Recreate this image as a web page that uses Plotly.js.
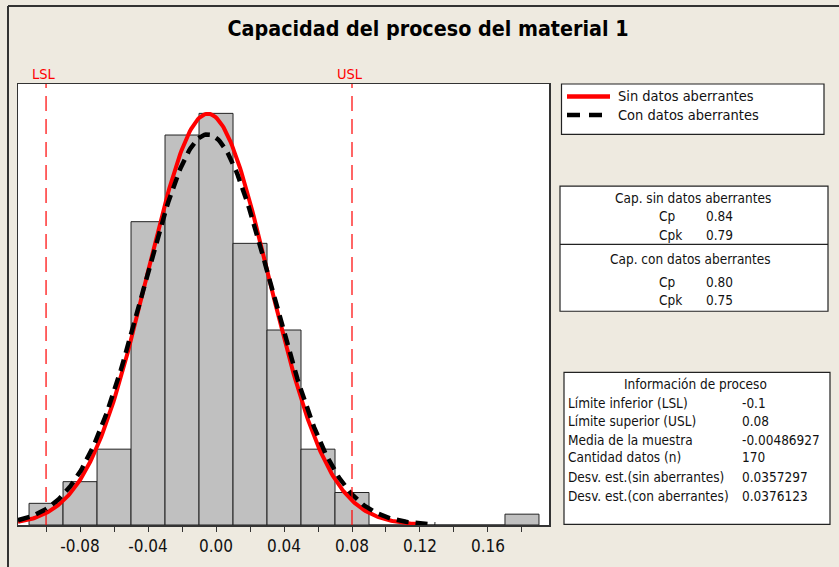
<!DOCTYPE html>
<html>
<head>
<meta charset="utf-8">
<script src="https://cdn.plot.ly/plotly-3.0.1.min.js"></script>
<style>
html,body{margin:0;padding:0;background:#EEEAE0;}
#chart{width:839px;height:567px;}
</style>
</head>
<body>
<div id="chart"></div>
<script>
// ---- data ----
const binCenters = [-0.10,-0.08,-0.06,-0.04,-0.02,0.00,0.02,0.04,0.06,0.08,0.10,0.12,0.14,0.16,0.18];
const binCounts  = [2,4,7,28,36,38,26,18,7,3,0,0,0,0,1];
const binWidth = 0.02;
const tickVals   = [-0.10,-0.08,-0.06,-0.04,-0.02,0.00,0.02,0.04,0.06,0.08,0.10,0.12,0.14,0.16,0.18];
const tickLabels = ["","-0.08","","-0.04","","0.00","","0.04","","0.08","","0.12","","0.16",""];
const specLimits = {LSL:-0.1, USL:0.08};
const sampleMean = -0.00486927;
const sampleN = 170;
const sdWithout = 0.0357297;
const sdWith = 0.0376123;
const curveRangeWithout = [-0.1165, 0.124];
const curveRangeWith = [-0.1165, 0.129];
const seriesNames = ["Sin datos aberrantes", "Con datos aberrantes"];
const capRowsWithout = [["Cp","0.84"],["Cpk","0.79"]];
const capRowsWith = [["Cp","0.80"],["Cpk","0.75"]];
const infoRows = [
  ["Límite inferior (LSL)","-0.1"],
  ["Límite superior (USL)","0.08"],
  ["Media de la muestra","-0.00486927"],
  ["Cantidad datos (n)","170"],
  ["Desv. est.(sin aberrantes)","0.0357297"],
  ["Desv. est.(con aberrantes)","0.0376123"]
];

// fitted normal curves (from the stated mean / sd, scaled to counts per bin)
function normalCurve(mu, sd, range){
  const xs=[], ys=[];
  const steps=300;
  for(let i=0;i<=steps;i++){
    const x = range[0] + (range[1]-range[0])*i/steps;
    const z=(x-mu)/sd;
    xs.push(x);
    ys.push(sampleN*binWidth*Math.exp(-0.5*z*z)/(sd*Math.sqrt(2*Math.PI)));
  }
  return {xs, ys};
}
const cWithout = normalCurve(sampleMean, sdWithout, curveRangeWithout);
const cWith = normalCurve(sampleMean, sdWith, curveRangeWith);

// ---- layout geometry (pixels -> paper) ----
const W=839, H=567, L=18, R=549, T=83.5, B=525;
const px = p => (p-L)/(R-L);
const py = p => (B-p)/(B-T);
const FONT = "DejaVu Sans Condensed, Liberation Sans, Arial, sans-serif";
const RED = '#FF0000';
const BLACKDASH = '12px,7px';

const traces = [
  {type:'bar', x:binCenters, y:binCounts, width:binWidth, showlegend:false,
   marker:{color:'#C0C0C0', line:{color:'#222', width:1}}, hoverinfo:'x+y'},
  {type:'scatter', mode:'lines', x:cWithout.xs, y:cWithout.ys, name:seriesNames[0], showlegend:false,
   line:{color:RED, width:4}},
  {type:'scatter', mode:'lines', x:cWith.xs, y:cWith.ys, name:seriesNames[1], showlegend:false,
   line:{color:'#000000', width:4.5, dash:BLACKDASH}}
];

const shapes = [
  // spec limit lines
  {type:'line', xref:'x', yref:'paper', x0:specLimits.LSL, x1:specLimits.LSL, y0:0, y1:1,
   line:{color:RED, width:1.2, dash:'15px,8px'}},
  {type:'line', xref:'x', yref:'paper', x0:specLimits.USL, x1:specLimits.USL, y0:0, y1:1,
   line:{color:RED, width:1.2, dash:'15px,8px'}},
  // outer frame
  {type:'line', xref:'paper', yref:'paper', x0:px(8), x1:px(845), y0:py(5.5), y1:py(5.5), line:{color:'#333', width:2}},
  {type:'line', xref:'paper', yref:'paper', x0:px(8), x1:px(8), y0:py(5.5), y1:py(575), line:{color:'#333', width:2}},
  // legend box + samples
  {type:'rect', xref:'paper', yref:'paper', x0:px(561.5), x1:px(824), y0:py(134), y1:py(83.5),
   line:{color:'#222', width:1.2}, fillcolor:'#FFFFFF', layer:'below'},
  {type:'line', xref:'paper', yref:'paper', x0:px(567), x1:px(610), y0:py(96), y1:py(96),
   line:{color:RED, width:4.5}},
  {type:'line', xref:'paper', yref:'paper', x0:px(567), x1:px(610), y0:py(114.5), y1:py(114.5),
   line:{color:'#000', width:4.5, dash:'13px,9px'}},
  // capability box
  {type:'rect', xref:'paper', yref:'paper', x0:px(560), x1:px(828), y0:py(311), y1:py(185.7),
   line:{color:'#222', width:1.2}, fillcolor:'#FFFFFF', layer:'below'},
  {type:'line', xref:'paper', yref:'paper', x0:px(560), x1:px(828), y0:py(244), y1:py(244),
   line:{color:'#222', width:1.2}},
  // info box
  {type:'rect', xref:'paper', yref:'paper', x0:px(564), x1:px(830), y0:py(524.3), y1:py(372.3),
   line:{color:'#222', width:1.2}, fillcolor:'#FFFFFF', layer:'below'}
];

const ann = [];
function txt(t, x, y, anchor, size, color){
  ann.push({text:t, xref:'paper', yref:'paper', x:px(x), y:py(y), xanchor:anchor||'left', yanchor:'middle',
    showarrow:false, font:{family:FONT, size:size||13.5, color:color||'#111'}});
}
txt('LSL', 44, 73, 'center', 14.5, RED);
txt('USL', 350, 73, 'center', 14.5, RED);
txt(seriesNames[0], 616, 96, 'left', 14.5);
txt(seriesNames[1], 616, 114.5, 'left', 14.5);
txt('Cap. sin datos aberrantes', 693, 198, 'center');
capRowsWithout.forEach((r,i)=>{ txt(r[0], 657, 216+i*18.3); txt(r[1], 704, 216+i*18.3); });
txt('Cap. con datos aberrantes', 690, 258.3, 'center');
capRowsWith.forEach((r,i)=>{ txt(r[0], 657, 281.7+i*18.3); txt(r[1], 704, 281.7+i*18.3); });
txt('Información de proceso', 695, 384, 'center');
const infoY = [403.3, 420.7, 440, 457.3, 476.7, 496];
infoRows.forEach((r,i)=>{ txt(r[0], 566, infoY[i]); txt(r[1], 740, infoY[i]); });

const layout = {
  width:W, height:H,
  paper_bgcolor:'#EEEAE0', plot_bgcolor:'#FFFFFF',
  margin:{l:L, r:W-R, t:T, b:H-B, pad:0},
  font:{family:FONT, color:'#111'},
  title:{text:'<b>Capacidad del proceso del material 1</b>', x:428/W, xanchor:'center',
    y:1-29/H, yanchor:'middle', yref:'container', font:{family:FONT, size:21.3, color:'#000'}},
  bargap:0,
  showlegend:false,
  xaxis:{range:[-0.1165,0.1959], tickmode:'array', tickvals:tickVals, ticktext:tickLabels,
    ticks:'outside', ticklen:5, tickwidth:1, tickcolor:'#333', showline:true, mirror:true,
    linecolor:'#333', linewidth:1.5, showgrid:false, zeroline:false,
    tickfont:{family:FONT, size:17, color:'#111'}},
  yaxis:{range:[0,40.71], showticklabels:false, ticks:'', showline:true, mirror:true,
    linecolor:'#333', linewidth:1.5, showgrid:false, zeroline:false},
  shapes:shapes, annotations:ann
};

Plotly.newPlot('chart', traces, layout, {displayModeBar:false, staticPlot:true});
</script>
</body>
</html>
